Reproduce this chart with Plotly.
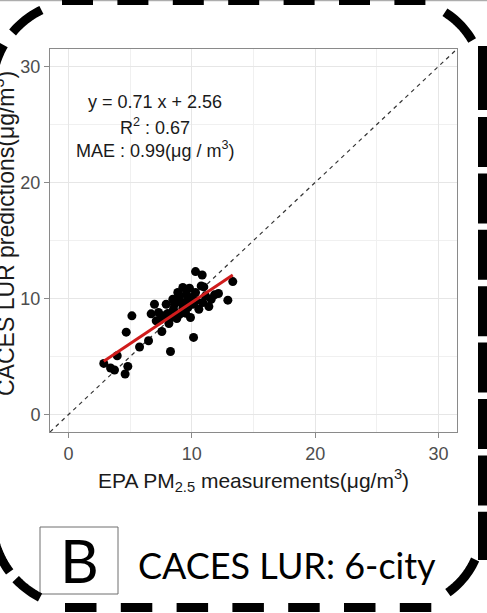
import plotly.graph_objects as go
import numpy as np

# EPA PM2.5 measurements vs CACES LUR predictions (ug/m3)
epa_measured = [2.86, 3.41, 3.73, 3.95, 4.59, 4.81, 4.68, 5.14, 5.76, 6.49,
                6.70, 6.97, 7.30, 7.43, 7.57, 7.92, 8.05, 8.27, 8.14, 8.59,
                8.86, 8.95, 9.14, 9.27, 8.78, 9.49, 9.59, 9.81, 9.89, 10.08,
                10.14, 10.30, 10.84, 10.76, 10.97, 11.11, 11.38, 11.57, 11.84, 12.16,
                12.92, 13.32, 8.46, 8.32, 7.70, 9.54, 10.35, 10.57, 9.00, 9.95,
                8.51, 9.27, 10.89, 10.30, 7.11, 9.68]
lur_predicted = [4.41, 4.01, 3.84, 5.07, 3.50, 4.15, 7.10, 8.51, 5.82, 6.36,
                 8.68, 9.51, 8.80, 8.17, 7.16, 9.51, 8.71, 5.44, 7.85, 9.51,
                 10.52, 10.09, 9.66, 9.17, 8.28, 8.74, 9.80, 10.89, 8.37, 9.51,
                 6.65, 12.32, 12.03, 11.09, 11.00, 10.23, 9.31, 9.94, 10.32, 10.43,
                 9.86, 11.46, 9.94, 8.37, 8.51, 10.37, 9.80, 9.08, 8.65, 10.09,
                 9.08, 10.95, 9.66, 10.52, 8.08, 9.23]

slope = 0.71
intercept = 2.56
r_squared = 0.67
mae = 0.99

axis_range = [-1.5, 31.5]
tick_vals = [0, 10, 20, 30]

W, H = 487, 613


def px(x):
    return x / W


def py(y):
    return 1 - y / H


fig = go.Figure()

# 1:1 line
fig.add_trace(go.Scatter(
    x=axis_range, y=axis_range, mode='lines',
    line=dict(color='#333333', width=1.2, dash='4px,4px'),
    showlegend=False, hoverinfo='skip'
))

# points
fig.add_trace(go.Scatter(
    x=epa_measured, y=lur_predicted, mode='markers',
    marker=dict(color='black', size=9),
    showlegend=False
))

# fitted line
fit_x = np.array([min(epa_measured), max(epa_measured)])
fig.add_trace(go.Scatter(
    x=fit_x, y=slope * fit_x + intercept, mode='lines',
    line=dict(color='#d01c1c', width=3),
    showlegend=False
))

axis_style = dict(
    range=axis_range, tickvals=tick_vals,
    showline=True, mirror=True, linecolor='#8a8a8a', linewidth=1,
    ticks='outside', ticklen=5, tickcolor='#8a8a8a',
    tickfont=dict(family='Liberation Sans', size=18, color='#4d4d4d'),
    showgrid=True, gridcolor='#e6e6e6', gridwidth=1,
    minor=dict(dtick=5, tick0=0, showgrid=True, gridcolor='#f0f0f0', gridwidth=1),
    zeroline=False
)

fig.update_xaxes(domain=[px(50), px(457)], **axis_style)
fig.update_yaxes(domain=[py(432), py(49)], **axis_style)

txt_font = dict(family='Liberation Sans', size=18, color='#1a1a1a')
stats = [
    (26.9, f'y = {slope} x + {intercept}'),
    (24.8, f'R<sup>2</sup> : {r_squared}'),
    (22.8, f'MAE : {mae}(μg / m<sup>3</sup>)'),
]
for yv, t in stats:
    fig.add_annotation(x=7, y=yv, xref='x', yref='y', text=t, showarrow=False,
                       font=txt_font, xanchor='center', yanchor='middle')

# axis titles
fig.add_annotation(x=px(253), y=py(481), xref='paper', yref='paper',
                   text='EPA PM<sub>2.5</sub> measurements(μg/m<sup>3</sup>)',
                   showarrow=False, font=dict(txt_font, size=21),
                   xanchor='center', yanchor='middle')
fig.add_annotation(x=px(4), y=py(234), xref='paper', yref='paper',
                   text='CACES LUR predictions(μg/m<sup>3</sup>)', textangle=-90,
                   showarrow=False, font=dict(txt_font, size=23),
                   xanchor='center', yanchor='middle')

# panel label
fig.add_shape(type='rect', xref='paper', yref='paper',
              x0=px(40), x1=px(118), y0=py(594), y1=py(527),
              line=dict(color='#6e6e6e', width=1), fillcolor='white')
fig.add_annotation(x=px(79), y=py(560), xref='paper', yref='paper', text='B',
                   showarrow=False, font=dict(family='Lato', size=60, color='black'),
                   xanchor='center', yanchor='middle')
fig.add_annotation(x=px(136), y=py(565), xref='paper', yref='paper',
                   text='CACES LUR: 6-city', showarrow=False,
                   font=dict(family='Lato', size=36, color='black'),
                   xanchor='left', yanchor='middle')

# thin frame line of the figure above
fig.add_shape(type='line', xref='paper', yref='paper',
              x0=0, x1=1, y0=py(0.7), y1=py(0.7),
              line=dict(color='#9a9a9a', width=1))

# dashed rounded border, drawn piece by piece
border = dict(color='black', width=9)


def arc(cx, cy, r, a0, a1):
    a = np.radians(np.linspace(a0, a1, 14))
    pts = [f'{px(cx + r * np.cos(t))},{py(cy + r * np.sin(t))}' for t in a]
    return 'M ' + ' L '.join(pts)


corner_dashes = [
    (80, 89, 88, -116, -140), (80, 89, 88, -150, -172),   # top-left
    (402, 81, 81, -58, -30),                               # top-right
    (402, 527, 80, 24, 55),                                # bottom-right
    (80, 519, 88, 117, 137), (80, 519, 88, 143, 170),     # bottom-left
]
for cx, cy, r, a0, a1 in corner_dashes:
    fig.add_shape(type='path', xref='paper', yref='paper',
                  path=arc(cx, cy, r, a0, a1), line=border)

fig.add_shape(type='line', xref='paper', yref='paper',
              x0=px(62), x1=px(430), y0=py(0.5), y1=py(0.5),
              line=dict(border, dash='31px,24.4px'))
fig.add_shape(type='line', xref='paper', yref='paper',
              x0=px(65), x1=px(432), y0=py(607.5), y1=py(607.5),
              line=dict(border, dash='31.5px,24.3px'))

# right side: nearly continuous heavy dashes
fig.add_shape(type='line', xref='paper', yref='paper',
              x0=px(482.5), x1=px(482.5), y0=py(46), y1=py(110),
              line=border)
fig.add_shape(type='line', xref='paper', yref='paper',
              x0=px(482.5), x1=px(482.5), y0=py(117), y1=py(560),
              line=dict(border, dash='50px,6.4px'))

fig.update_layout(
    width=W, height=H,
    margin=dict(l=0, r=0, t=0, b=0),
    plot_bgcolor='white', paper_bgcolor='white',
    showlegend=False
)

fig.write_html("out.html", config={'displayModeBar': False},
               post_script="document.body.style.margin = '0';")
